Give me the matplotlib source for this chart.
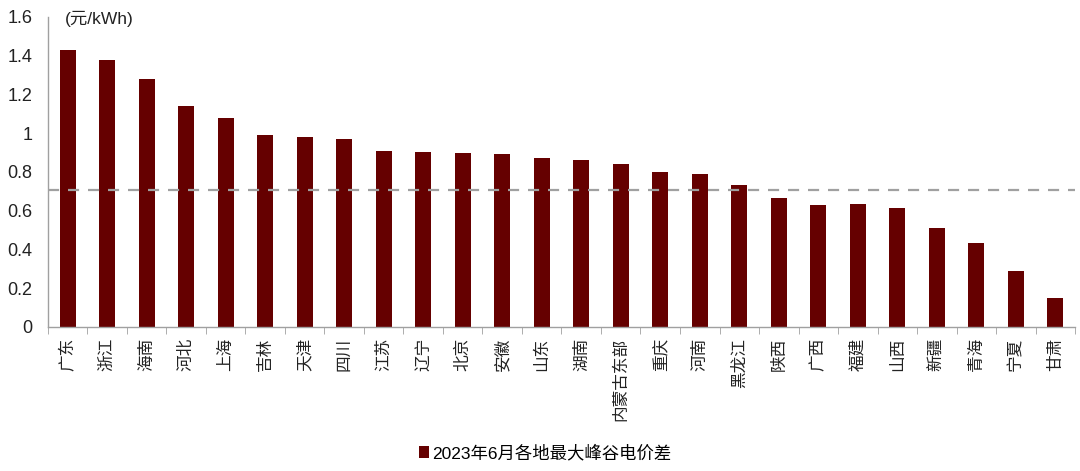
import matplotlib
matplotlib.use("Agg")
import matplotlib.pyplot as plt
import numpy as np

plt.rcParams['font.family'] = ['Liberation Sans', 'Noto Sans CJK SC', 'DejaVu Sans']

regions = ['广东', '浙江', '海南', '河北', '上海', '吉林', '天津', '四川', '江苏', '辽宁',
           '北京', '安徽', '山东', '湖南', '内蒙古东部', '重庆', '河南', '黑龙江', '陕西',
           '广西', '福建', '山西', '新疆', '青海', '宁夏', '甘肃']
spread = [1.43, 1.38, 1.28, 1.14, 1.08, 0.99, 0.98, 0.97, 0.91, 0.905,
          0.90, 0.895, 0.87, 0.86, 0.84, 0.80, 0.79, 0.73, 0.665,
          0.63, 0.634, 0.613, 0.51, 0.433, 0.29, 0.15]
avg_line = 0.706
y_ticks = [0, 0.2, 0.4, 0.6, 0.8, 1.0, 1.2, 1.4, 1.6]
y_labels = ['0', '0.2', '0.4', '0.6', '0.8', '1', '1.2', '1.4', '1.6']
series_name = '2023年6月各地最大峰谷电价差'

bar_color = '#650000'
axis_color = '#a0a0a0'

fig = plt.figure(figsize=(10.8, 4.71), dpi=100)
ax = fig.add_axes([0.0444, 0.306, 0.951, 0.658])

x = np.arange(len(regions))
ax.bar(x, spread, width=0.41, color=bar_color, label=series_name, zorder=2)
ax.axhline(avg_line, color='#a0a0a0', linestyle=(0, (5, 4)), linewidth=1.6, zorder=3)

ax.set_xlim(-0.5, len(regions) - 0.5)
ax.set_ylim(0, 1.6)
ax.set_yticks(y_ticks)
ax.set_yticklabels(y_labels, fontsize=13, color='#222222')
ax.tick_params(axis='y', length=0, pad=11)

ax.set_xticks(x)
ax.set_xticklabels(regions, rotation=90, fontsize=12, color='#222222', va='top')
ax.tick_params(axis='x', which='major', length=0, pad=8)
ax.set_xticks(np.arange(-0.5, len(regions)), minor=True)
ax.tick_params(axis='x', which='minor', length=5, color=axis_color, direction='out')

for side in ['top', 'right']:
    ax.spines[side].set_visible(False)
for side in ['left', 'bottom']:
    ax.spines[side].set_color(axis_color)
    ax.spines[side].set_linewidth(1)

ax.text(0.016, 1.59, '(元/kWh)', fontsize=12.5, color='#222222', va='center', ha='left',
        transform=ax.get_yaxis_transform())

fig.legend(loc='center', bbox_to_anchor=(0.505, 0.038), frameon=False, fontsize=12.5,
           handlelength=0.55, handleheight=0.7, handletextpad=0.2)

fig.savefig('out.png', dpi=100)
